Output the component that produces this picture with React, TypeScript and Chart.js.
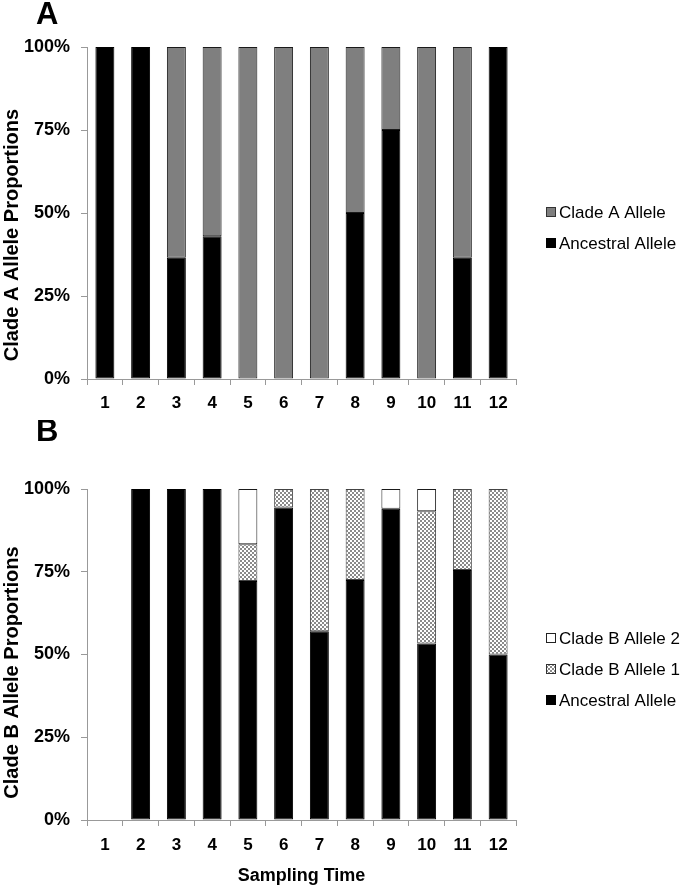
import React, { useEffect, useRef } from 'react';
import { Chart, registerables } from 'chart.js';

Chart.register(...registerables);

// ---------- data ----------
const samplingTimes = ['1', '2', '3', '4', '5', '6', '7', '8', '9', '10', '11', '12'];
const yTickStep = 25;

// Panel A (percent)
const cladeAAncestral = [100, 100, 36.5, 43, 0, 0, 0, 50, 75, 0, 36.5, 100];
const cladeAAllele = [0, 0, 63.5, 57, 100, 100, 100, 50, 25, 100, 63.5, 0];

// Panel B (percent)
const cladeBAncestral = [0, 100, 100, 100, 72.2, 94.4, 57, 72.5, 94, 53.3, 75.5, 50];
const cladeBAllele1 = [0, 0, 0, 0, 11.1, 5.6, 43, 27.5, 0, 40, 24.5, 50];
const cladeBAllele2 = [0, 0, 0, 0, 16.7, 0, 0, 0, 6, 6.7, 0, 0];

const FONT = '"Liberation Sans", Arial, Helvetica, sans-serif';

const toBars = (arr: number[]) => arr.map((v) => (v === 0 ? null : v));

const panelDecor = {
  id: 'panelDecor',
  afterDraw(chart: any, _args: any, opts: any) {
    const { ctx, chartArea } = chart;
    ctx.save();
    ctx.fillStyle = '#000';
    ctx.textBaseline = 'middle';
    ctx.textAlign = 'left';
    ctx.font = `bold 31px ${FONT}`;
    ctx.fillText(opts.letter, opts.letterX, opts.letterY);

    // y-axis title
    ctx.save();
    ctx.font = `bold 20px ${FONT}`;
    ctx.textAlign = 'center';
    ctx.translate(opts.yTitleX, (chartArea.top + chartArea.bottom) / 2 + opts.yTitleShift);
    ctx.rotate(-Math.PI / 2);
    ctx.fillText(opts.yTitle, 0, 0);
    ctx.restore();

    const items = chart.data.datasets
      .map((ds: any) => ({ label: ds.label, fill: ds.backgroundColor, border: ds.legendBorder }))
      .reverse();
    const cy = (chartArea.top + chartArea.bottom) / 2 + opts.legendShift;
    const gap = opts.legendGap;
    const y0 = cy - ((items.length - 1) * gap) / 2;
    ctx.font = `17px ${FONT}`;
    ctx.textAlign = 'left';
    items.forEach((it: any, k: number) => {
      const y = Math.round(y0 + k * gap);
      ctx.fillStyle = it.fill;
      ctx.fillRect(opts.legendX, y - 5, 10, 10);
      ctx.strokeStyle = it.border;
      ctx.lineWidth = 1;
      ctx.strokeRect(opts.legendX + 0.5, y - 4.5, 9, 9);
      ctx.fillStyle = '#000';
      ctx.fillText(it.label, opts.legendX + 13, y + 1);
    });
    ctx.restore();
  },
};

const xTickFont = { family: FONT, size: 17, weight: 'bold' as const };
const yTickFont = { family: FONT, size: 18, weight: 'bold' as const };

function makeScales(opts: { xHeight: number; xPad: number; xTitle?: string }) {
  return {
    x: {
      stacked: true,
      afterFit: (s: any) => {
        s.height = opts.xHeight;
      },
      grid: { offset: true, drawOnChartArea: false, drawTicks: true, tickLength: 6, color: '#999' },
      border: { display: true, color: '#999', width: 1 },
      ticks: { color: '#000', font: xTickFont, padding: opts.xPad, maxRotation: 0, autoSkip: false },
      title: opts.xTitle
        ? { display: true, text: opts.xTitle, color: '#000', font: { family: FONT, size: 18, weight: 'bold' as const }, padding: { top: 0, bottom: 1 } }
        : { display: false },
    },
    y: {
      stacked: true,
      min: 0,
      max: 100,
      afterFit: (s: any) => {
        s.width = 87;
      },
      ticks: {
        stepSize: yTickStep,
        color: '#000',
        font: yTickFont,
        padding: 11,
        callback: (v: any) => `${v}%`,
      },
      grid: { drawOnChartArea: false, drawTicks: true, tickLength: 6, color: '#999' },
      border: { display: true, color: '#999', width: 1 },
      title: { display: false },
    },
  };
}

const barCommon = {
  borderWidth: 1,
  borderSkipped: false,
  barPercentage: 0.53,
  categoryPercentage: 1,
};

export default function App() {
  const refA = useRef<HTMLCanvasElement>(null);
  const refB = useRef<HTMLCanvasElement>(null);

  useEffect(() => {
    if (!refA.current || !refB.current) return;

    const tile = document.createElement('canvas');
    tile.width = 4;
    tile.height = 4;
    const t = tile.getContext('2d')!;
    t.fillStyle = '#ffffff';
    t.fillRect(0, 0, 4, 4);
    t.fillStyle = '#8a8a8a';
    t.fillRect(0, 0, 2, 2);
    t.fillRect(2, 2, 2, 2);
    const pattern = refB.current.getContext('2d')!.createPattern(tile, 'repeat');

    const chartA = new Chart(refA.current, {
      type: 'bar',
      data: {
        labels: samplingTimes,
        datasets: [
          { label: 'Ancestral Allele', data: toBars(cladeAAncestral), backgroundColor: '#000000', borderColor: '#000000', legendBorder: '#000', ...barCommon } as any,
          { label: 'Clade A Allele', data: toBars(cladeAAllele), backgroundColor: '#7f7f7f', borderColor: '#1a1a1a', legendBorder: '#333', ...barCommon } as any,
        ],
      },
      options: {
        responsive: false,
        animation: false,
        layout: { padding: { top: 47, right: 164, bottom: 0, left: 0 } },
        plugins: {
          legend: { display: false },
          tooltip: { enabled: false },
          panelDecor: {
            letter: 'A', letterX: 36, letterY: 15,
            yTitle: 'Clade A Allele Proportions', yTitleX: 12, yTitleShift: 22,
            legendX: 546, legendShift: 14, legendGap: 31,
          },
        } as any,
        scales: makeScales({ xHeight: 41, xPad: 8 }) as any,
      },
      plugins: [panelDecor],
    });

    const chartB = new Chart(refB.current, {
      type: 'bar',
      data: {
        labels: samplingTimes,
        datasets: [
          { label: 'Ancestral Allele', data: toBars(cladeBAncestral), backgroundColor: '#000000', borderColor: '#000000', legendBorder: '#000', ...barCommon } as any,
          { label: 'Clade B Allele 1', data: toBars(cladeBAllele1), backgroundColor: pattern, borderColor: '#444444', legendBorder: '#333', ...barCommon } as any,
          { label: 'Clade B Allele 2', data: toBars(cladeBAllele2), backgroundColor: '#ffffff', borderColor: '#1a1a1a', legendBorder: '#222', ...barCommon } as any,
        ],
      },
      options: {
        responsive: false,
        animation: false,
        layout: { padding: { top: 69, right: 164, bottom: 0, left: 0 } },
        plugins: {
          legend: { display: false },
          tooltip: { enabled: false },
          panelDecor: {
            letter: 'B', letterX: 36, letterY: 12,
            yTitle: 'Clade B Allele Proportions', yTitleX: 12, yTitleShift: 18,
            legendX: 546, legendShift: 14, legendGap: 31,
          },
        } as any,
        scales: makeScales({ xHeight: 68, xPad: 9, xTitle: 'Sampling Time' }) as any,
      },
      plugins: [panelDecor],
    });

    return () => {
      chartA.destroy();
      chartB.destroy();
    };
  }, []);

  return (
    <div style={{ position: 'absolute', left: 0, top: 0, width: 680, height: 888, background: '#fff' }}>
      <canvas ref={refA} width={680} height={420} style={{ display: 'block', width: 680, height: 420 }} />
      <canvas ref={refB} width={680} height={468} style={{ display: 'block', width: 680, height: 468 }} />
    </div>
  );
}
